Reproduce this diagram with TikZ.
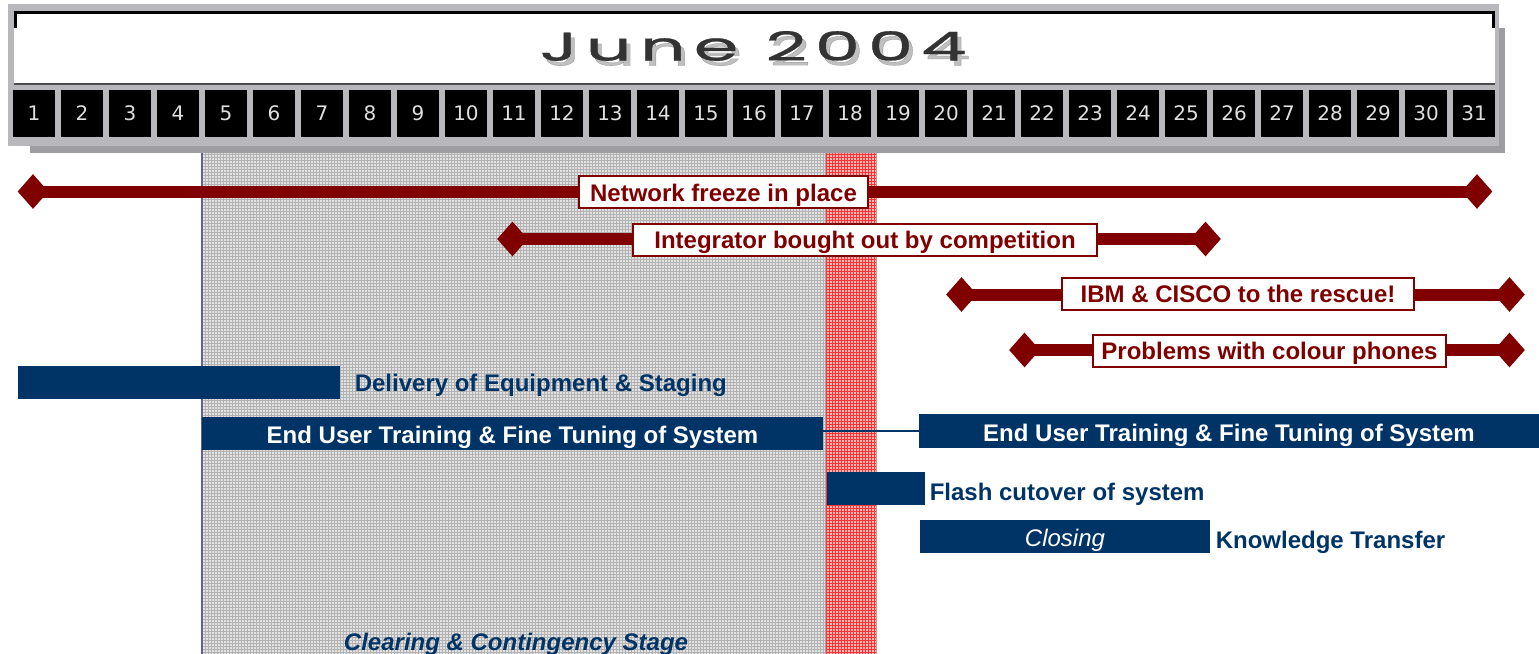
\documentclass[tikz,border=0pt]{standalone}
\usepackage{fontspec}
\setmainfont{Liberation Sans}
\newfontfamily\titlefont[LetterSpace=11, FakeBold=0.6]{Poppins}
\newfontfamily\dayfont{DejaVu Sans}
\usepackage{tikz}
\usetikzlibrary{shapes,calc,positioning,patterns.meta}
\definecolor{darkred}{rgb}{0.5,0,0}
\definecolor{navy}{RGB}{0,51,102}
\definecolor{framegray}{RGB}{184,184,188}
\definecolor{shadowgray}{RGB}{158,158,162}
\tikzdeclarepattern{
  name=finegrid,
  type=uncolored,
  bottom left={(-.1pt,-.1pt)},
  top right={(1.6pt,1.6pt)},
  tile size={(1.5pt,1.5pt)},
  code={
    \draw[line width=0.35pt] (0,0.75pt) -- (1.5pt,0.75pt) (0.75pt,0) -- (0.75pt,1.5pt);
  }
}

\begin{document}
\begin{tikzpicture}[x=0.5pt,y=-0.5pt,
    freezebar/.style={darkred, line width=6pt},
    tip/.style={diamond, fill=darkred, inner sep=0pt, minimum width=15.5pt, minimum height=17.5pt},
    eventbox/.style={draw=darkred, line width=1pt, fill=white, text=darkred, inner sep=0pt,
      text height=10pt, text depth=1pt, minimum height=16pt,
      font=\bfseries\fontsize{12}{14}\selectfont},
    navybar/.style={fill=navy, inner sep=0pt, minimum height=16.5pt, text=white,
      text height=10.5pt, text depth=0.5pt, font=\bfseries\fontsize{12}{14}\selectfont},
    navylabel/.style={text=navy, inner sep=0pt, font=\bfseries\fontsize{12}{14}\selectfont},
    daybox/.style={fill=black, minimum width=21pt, minimum height=23.5pt, inner sep=0pt,
      text=gray!25, font=\dayfont\fontsize{10}{12}\selectfont},
    titletext/.style={font=\titlefont\fontsize{20}{22}\selectfont}]
  \useasboundingbox (0,0) rectangle (1539,654);
  % Draw the stage backgrounds
  \fill[gray!22] (202,152) rectangle (825,654);
  \fill[pattern=finegrid, pattern color=gray!60] (202,152) rectangle (825,654);
  \draw[blue!25!gray, line width=0.6pt] (202,152) -- (202,654);
  \fill[red!28] (826,152) rectangle (876,654);
  \fill[pattern=finegrid, pattern color=red!80] (826,152) rectangle (876,654);
  \draw[gray!70, line width=0.5pt] (825.5,152) -- (825.5,654) (876,152) -- (876,654);
  % Draw the calendar header
  \fill[shadowgray] (30,28) rectangle (1505,153);
  \fill[framegray] (8,4) rectangle (1499,146);
  \fill[white] (14,11) rectangle (1495,84);
  \draw[black, line width=1.5pt] (15,28) -- (15,12.5) -- (1493.5,12.5) -- (1493.5,28);
  \draw[gray!60!black, line width=0.6pt] (14,84) -- (1495,84);
  \node[titletext, text=black, opacity=0.25] (TS) at (757,51) {\scalebox{1.8}[1]{June 2004}};
  \node[titletext, text=black!80] (T) at (753,46) {\scalebox{1.8}[1]{June 2004}};
  \foreach \d in {1,...,31}
    \node[daybox] (D\d) at ({34+48*(\d-1)},113.5) {\d};
  % Draw the freeze and vendor events
  \node[tip] (NFl) at (33,191.5) {};
  \node[tip] (NFr) at (1477,191.5) {};
  \draw[freezebar] (NFl.center) -- (NFr.center);
  \node[eventbox, minimum width=144.5pt] (NF) at (723.5,192) {Network freeze in place};
  \node[tip] (IBl) at (512.5,239) {};
  \node[tip] (IBr) at (1205.5,239) {};
  \draw[freezebar] (IBl.center) -- (IBr.center);
  \node[eventbox, minimum width=232pt] (IB) at (865,239.5) {Integrator bought out by competition};
  \node[tip] (RSl) at (961.5,294.5) {};
  \node[tip] (RSr) at (1509.5,294.5) {};
  \draw[freezebar] (RSl.center) -- (RSr.center);
  \node[eventbox, minimum width=176pt] (RS) at (1238,293.5) {IBM \& CISCO to the rescue!};
  \node[tip] (CPl) at (1024.5,350) {};
  \node[tip] (CPr) at (1509.5,350) {};
  \draw[freezebar] (CPl.center) -- (CPr.center);
  \node[eventbox, minimum width=176.5pt] (CP) at (1269.5,350.5) {Problems with colour phones};
  % Draw the project stages
  \node[navybar, minimum width=161pt] (DE) at (179,382.5) {};
  \node[navylabel, right=7pt of DE, yshift=-1.5pt] (DEl) {Delivery of Equipment \& Staging};
  \node[navybar, minimum width=310.5pt] (TR1) at (512.5,433) {End User Training \& Fine Tuning of System};
  \node[navybar, minimum width=310pt, minimum height=17pt] (TR2) at (1229,431) {End User Training \& Fine Tuning of System};
  \draw[navy, line width=0.7pt] (TR2.west) -- (TR2.west -| TR1.east);
  \node[navybar, minimum width=49pt] (FC) at (876,488.5) {};
  \node[navylabel, right=2pt of FC, yshift=-3pt] (FCl) {Flash cutover of system};
  \node[navybar, minimum width=145pt, font=\itshape\fontsize{12}{14}\selectfont] (CL) at (1065,536.5) {Closing};
  \node[navylabel, right=2.5pt of CL, yshift=-3pt] (KT) {Knowledge Transfer};
  \node[navylabel, anchor=base, font=\bfseries\itshape\fontsize{12}{14}\selectfont] (CS) at (516,650) {Clearing \& Contingency Stage};
\end{tikzpicture}
\end{document}
